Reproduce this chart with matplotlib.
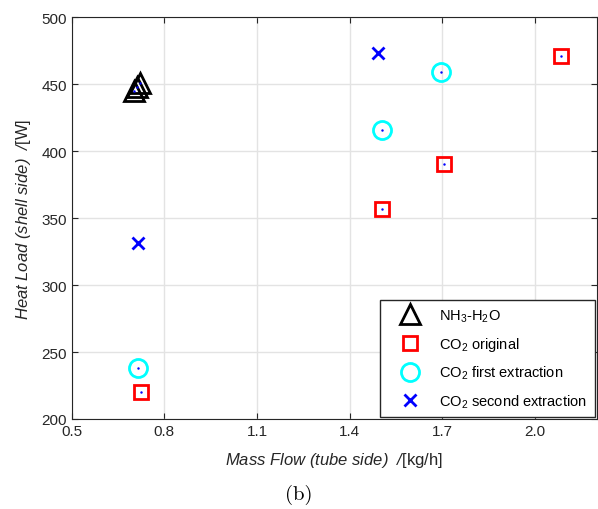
import numpy as np
import matplotlib.pyplot as plt

# NH3-H2O
nh3_x = [0.70, 0.71, 0.72]
nh3_y = [445, 448, 451]
# CO2 original
orig_x = [0.725, 1.505, 1.705, 2.085]
orig_y = [220, 357, 390, 471]
# CO2 first extraction
first_x = [0.715, 1.505, 1.695]
first_y = [238, 416, 459]
# CO2 second extraction
second_x = [0.715, 1.49]
second_y = [331, 473]

xticks = [0.5, 0.8, 1.1, 1.4, 1.7, 2.0]
yticks = [200, 250, 300, 350, 400, 450, 500]

plt.rcParams['font.family'] = ['Liberation Sans', 'DejaVu Sans']
# italic as default math font, upright via \mathsf
plt.rcParams['mathtext.fontset'] = 'custom'
plt.rcParams['mathtext.rm'] = 'Liberation Sans:italic'
plt.rcParams['mathtext.it'] = 'Liberation Sans:italic'
plt.rcParams['mathtext.sf'] = 'Liberation Sans'

fig = plt.figure(figsize=(5.98, 5.10), dpi=100)
ax = fig.add_axes([0.12, 0.1765, 0.878, 0.788])

ax.plot(nh3_x, nh3_y, linestyle='none', marker='^', ms=14, mfc='none',
        mec='black', mew=2, label=r'NH$_\mathsf{3}$-H$_\mathsf{2}$O')
ax.plot(orig_x, orig_y, linestyle='none', marker='s', ms=10, mfc='none',
        mec='red', mew=2, label=r'CO$_\mathsf{2}$ original')
ax.plot(first_x, first_y, linestyle='none', marker='o', ms=13, mfc='none',
        mec='cyan', mew=2, label=r'CO$_\mathsf{2}$ first extraction')
ax.plot(second_x, second_y, linestyle='none', marker='x', ms=9,
        mec='blue', mew=2, label=r'CO$_\mathsf{2}$ second extraction')
# small center dots
ax.plot(nh3_x + orig_x + first_x, nh3_y + orig_y + first_y, linestyle='none',
        marker='.', ms=1.5, color='blue')

ax.set_xlim(0.5, 2.2)
ax.set_ylim(200, 500)
ax.set_xticks(xticks)
ax.set_xticklabels(['0.5', '0.8', '1.1', '1.4', '1.7', '2.0'])
ax.set_yticks(yticks)
ax.tick_params(direction='in', top=True, right=True, labelsize=11,
               colors='#262626', length=4)
for s in ax.spines.values():
    s.set_color('#262626')
ax.grid(True, color='#e3e3e3', linewidth=1)
ax.set_axisbelow(True)

ax.set_xlabel(r'$Mass\ Flow\ (tube\ side)\ \ /\mathsf{[kg/h]}$', fontsize=12,
              color='#262626', labelpad=9)
ax.set_ylabel(r'$Heat\ Load\ (shell\ side)\ \ /\mathsf{[W]}$', fontsize=12,
              color='#262626', labelpad=6)

leg = ax.legend(loc='lower right', fontsize=10.5, frameon=True, fancybox=False,
                edgecolor='#262626', framealpha=1, borderaxespad=0.15,
                handletextpad=0.45, labelspacing=0.75, borderpad=0.5,
                handlelength=3.1)
leg.get_frame().set_linewidth(1)

fig.text(0.5, 0.03, '(b)', ha='center', va='center', fontsize=15,
         family='cmr10')

fig.savefig('out.png', dpi=100)
